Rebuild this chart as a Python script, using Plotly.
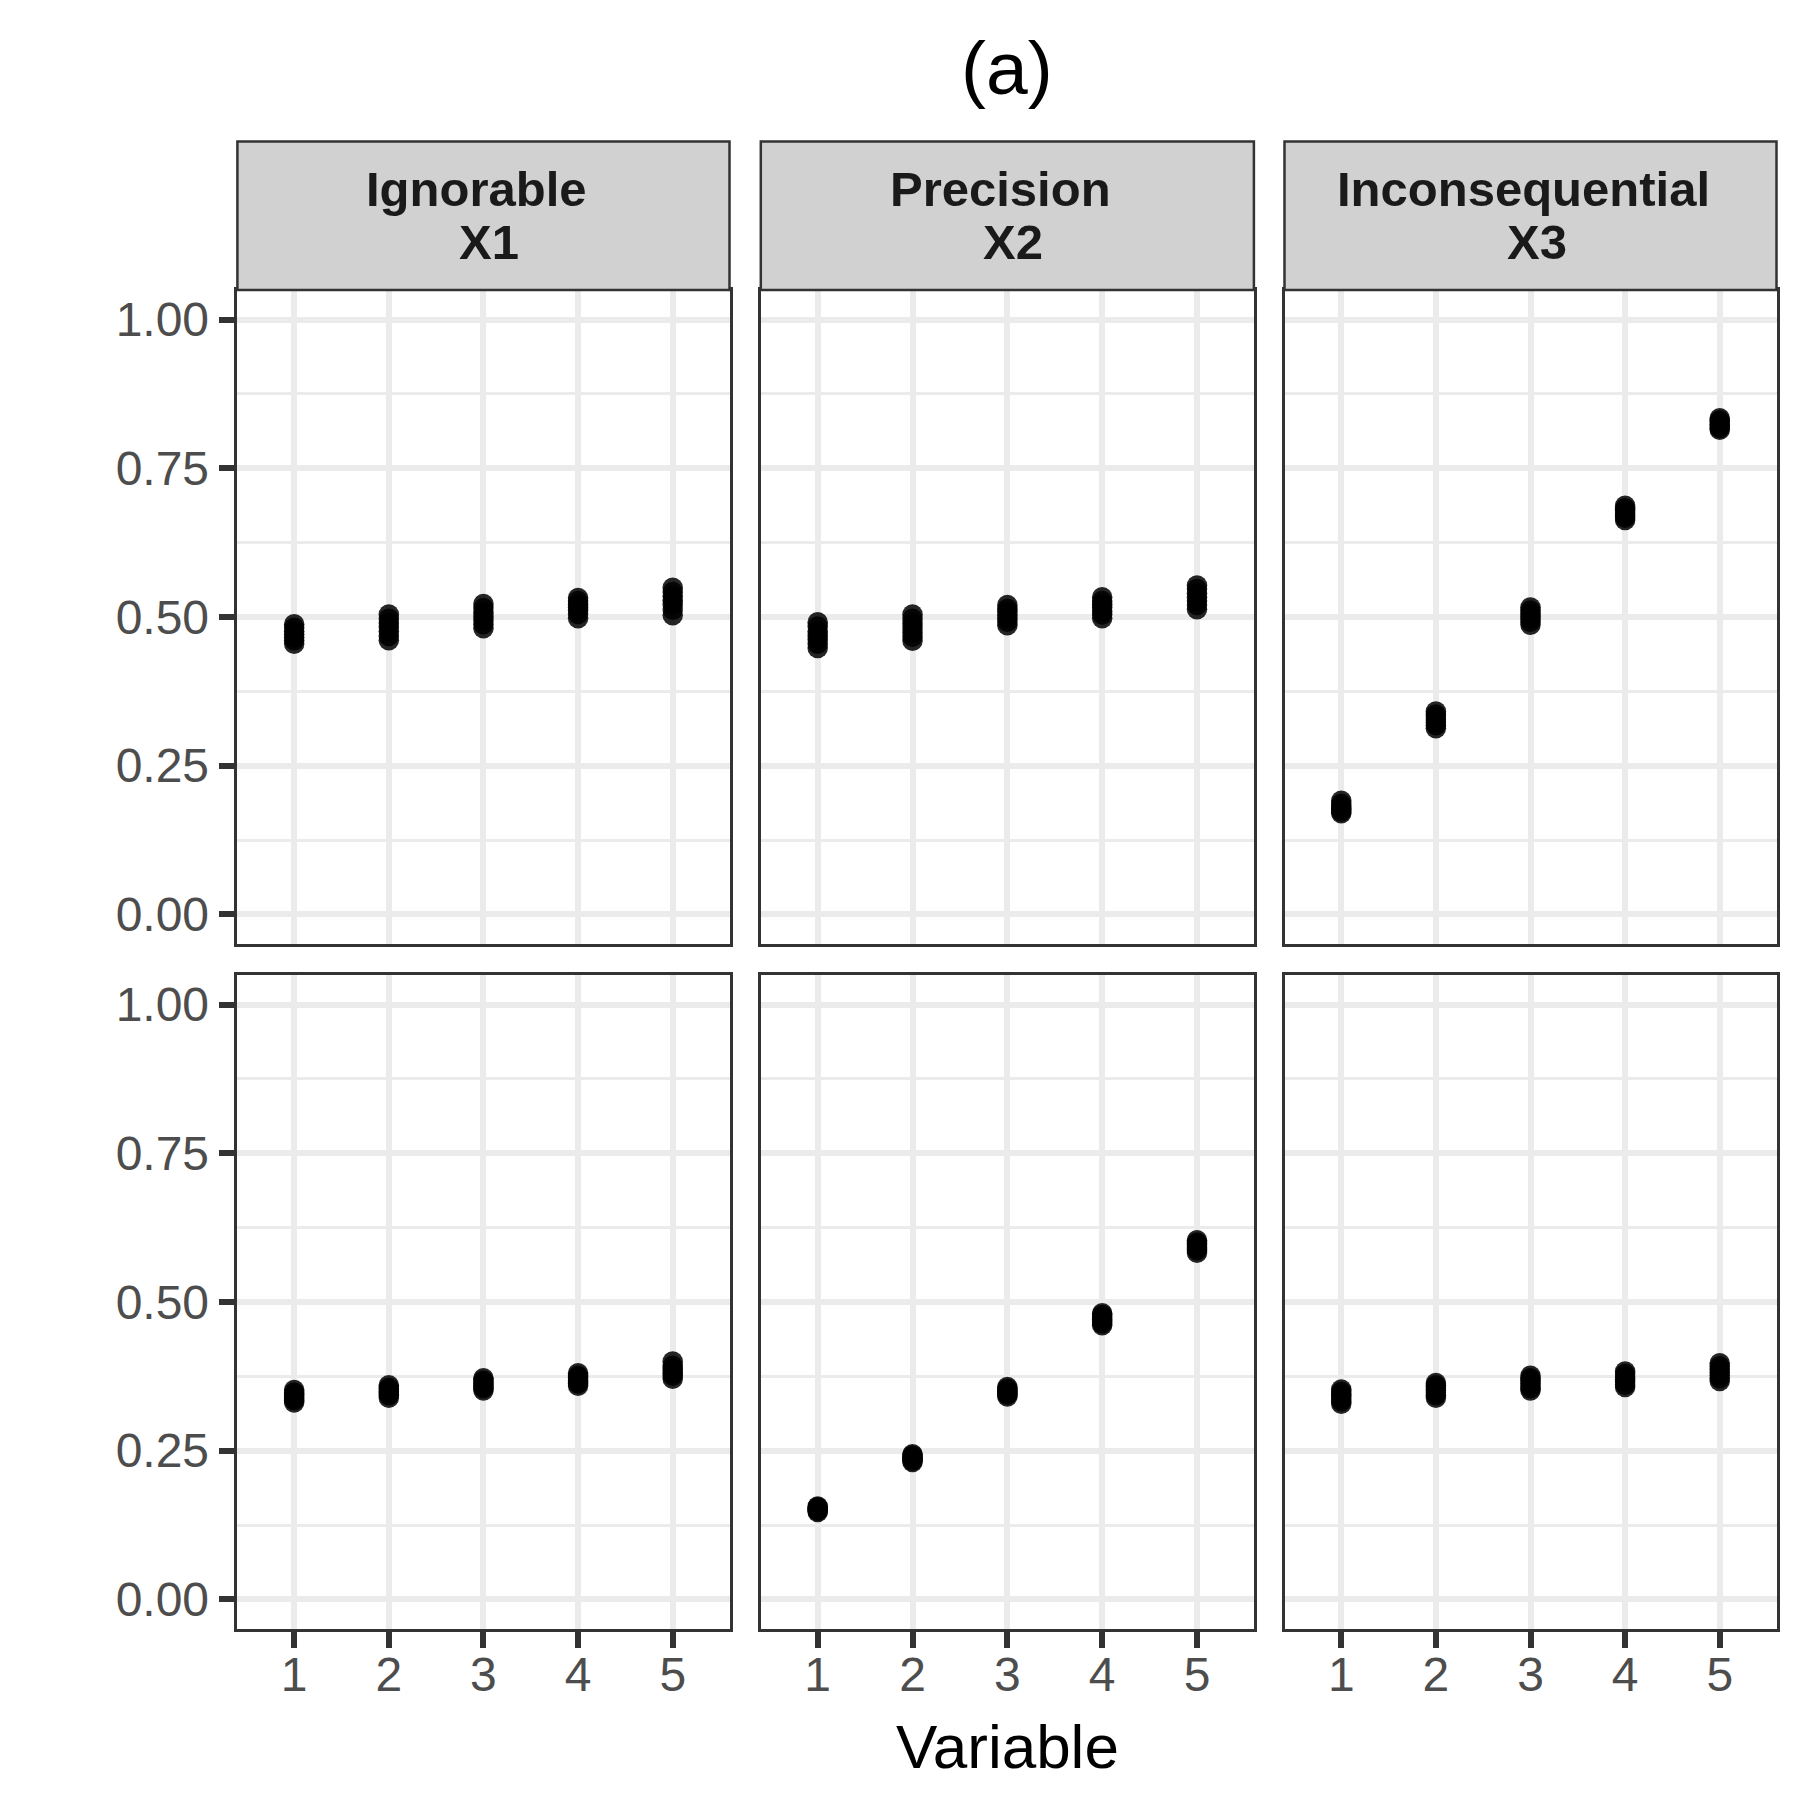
import plotly.graph_objects as go

# variables on the x axis and facet labels
variables = [1, 2, 3, 4, 5]
facet_titles = ["Ignorable", "Precision", "Inconsequential"]
facet_vars = ["X1", "X2", "X3"]
y_ticks = [0, 0.25, 0.5, 0.75, 1.0]
y_tick_labels = ["0.00", "0.25", "0.50", "0.75", "1.00"]
y_minor = [0.125, 0.375, 0.625, 0.875]

# replicate estimates, one list per variable (top row)
top_ignorable = [
    [0.455, 0.461, 0.466, 0.471, 0.476, 0.482, 0.488],
    [0.461, 0.468, 0.476, 0.483, 0.490, 0.497, 0.504],
    [0.481, 0.488, 0.494, 0.501, 0.508, 0.515, 0.522],
    [0.498, 0.505, 0.511, 0.516, 0.521, 0.527, 0.532],
    [0.503, 0.512, 0.521, 0.528, 0.535, 0.542, 0.549],
]
top_precision = [
    [0.448, 0.455, 0.462, 0.469, 0.476, 0.484, 0.491],
    [0.460, 0.467, 0.474, 0.482, 0.489, 0.497, 0.504],
    [0.486, 0.492, 0.498, 0.503, 0.509, 0.514, 0.520],
    [0.498, 0.504, 0.510, 0.516, 0.521, 0.527, 0.533],
    [0.513, 0.520, 0.527, 0.533, 0.540, 0.547, 0.553],
]
top_inconsequential = [
    [0.170, 0.173, 0.176, 0.179, 0.182, 0.186, 0.191],
    [0.313, 0.318, 0.322, 0.327, 0.332, 0.336, 0.341],
    [0.487, 0.492, 0.497, 0.501, 0.506, 0.511, 0.516],
    [0.663, 0.667, 0.671, 0.675, 0.679, 0.683, 0.687],
    [0.815, 0.818, 0.821, 0.824, 0.828, 0.831, 0.834],
]

# bottom row
bottom_ignorable = [
    [0.331, 0.335, 0.338, 0.341, 0.345, 0.348, 0.352],
    [0.339, 0.343, 0.346, 0.349, 0.353, 0.356, 0.360],
    [0.351, 0.355, 0.358, 0.361, 0.365, 0.368, 0.372],
    [0.359, 0.363, 0.366, 0.369, 0.373, 0.376, 0.380],
    [0.371, 0.376, 0.380, 0.384, 0.388, 0.393, 0.400],
]
bottom_precision = [
    [0.147, 0.149, 0.150, 0.152, 0.153, 0.155, 0.156],
    [0.231, 0.233, 0.235, 0.237, 0.239, 0.242, 0.244],
    [0.341, 0.344, 0.346, 0.349, 0.352, 0.354, 0.357],
    [0.461, 0.464, 0.468, 0.471, 0.474, 0.478, 0.481],
    [0.583, 0.587, 0.590, 0.593, 0.597, 0.600, 0.604],
]
bottom_inconsequential = [
    [0.329, 0.333, 0.337, 0.341, 0.345, 0.349, 0.353],
    [0.339, 0.343, 0.347, 0.351, 0.356, 0.360, 0.364],
    [0.351, 0.355, 0.359, 0.363, 0.368, 0.372, 0.376],
    [0.357, 0.361, 0.366, 0.370, 0.374, 0.379, 0.383],
    [0.367, 0.372, 0.377, 0.382, 0.387, 0.392, 0.397],
]

panels = [top_ignorable, top_precision, top_inconsequential,
          bottom_ignorable, bottom_precision, bottom_inconsequential]

FONT = "Liberation Sans, Arial, Helvetica, sans-serif"
W = H = 1800
col_dom = [(229.4 / W, 721.5 / W), (752.8 / W, 1245.9 / W), (1276.5 / W, 1768.5 / W)]
row_dom = [(1 - 936.1 / H, 1 - 281.9 / H), (1 - 1621.1 / H, 1 - 966.9 / H)]
strip_top = 1 - 133.5 / H

fig = go.Figure()
layout = dict(
    width=W, height=H,
    margin=dict(l=0, r=0, t=0, b=0),
    paper_bgcolor="white", plot_bgcolor="white",
    showlegend=False,
    shapes=[], annotations=[],
)

for i, clusters in enumerate(panels):
    r, c = divmod(i, 3)
    n = i + 1
    xs, ys = [], []
    for v, vals in zip(variables, clusters):
        xs += [v] * len(vals)
        ys += vals
    fig.add_trace(go.Scatter(
        x=xs, y=ys, mode="markers",
        marker=dict(color="black", size=20.5, opacity=0.85, line=dict(width=0)),
        xaxis=f"x{n}", yaxis=f"y{n}", hoverinfo="x+y",
    ))
    bottom = r == 1
    left = c == 0
    layout[f"xaxis{n}"] = dict(
        domain=list(col_dom[c]), anchor=f"y{n}", range=[0.4, 5.6],
        tickvals=variables, showticklabels=bottom,
        ticks="outside" if bottom else "", ticklen=16, tickwidth=6, tickcolor="#333333",
        ticklabelstandoff=-14,
        tickfont=dict(family=FONT, size=48, color="#4D4D4D"),
        showgrid=True, gridcolor="#EBEBEB", gridwidth=5.5, zeroline=False,
        showline=True, mirror=True, linecolor="#333333", linewidth=2.5,
        fixedrange=True,
    )
    layout[f"yaxis{n}"] = dict(
        domain=list(row_dom[r]), anchor=f"x{n}", range=[-0.05, 1.05],
        tickvals=y_ticks, ticktext=y_tick_labels, showticklabels=left,
        ticks="outside" if left else "", ticklen=16, tickwidth=6, tickcolor="#333333",
        tickfont=dict(family=FONT, size=48, color="#4D4D4D"),
        showgrid=True, gridcolor="#EBEBEB", gridwidth=5.5, zeroline=False,
        minor=dict(tickvals=y_minor, showgrid=True, gridcolor="#EBEBEB", gridwidth=3, ticks=""),
        showline=True, mirror=True, linecolor="#333333", linewidth=2.5,
        fixedrange=True,
    )

# facet strips across the top
for c in range(3):
    x0, x1 = col_dom[c]
    layout["shapes"].append(dict(
        type="rect", xref="paper", yref="paper",
        x0=x0, x1=x1, y0=row_dom[0][1], y1=strip_top,
        fillcolor="#D1D1D1", line=dict(color="#333333", width=2.5), layer="above",
    ))
    xc = (x0 + x1) / 2
    layout["annotations"].append(dict(
        text=f"<b>{facet_titles[c]}</b>", xref="paper", yref="paper",
        x=xc, y=1 - 181 / H, xanchor="center", yanchor="middle", xshift=-7,
        showarrow=False, font=dict(family=FONT, size=49, color="#1A1A1A"),
    ))
    layout["annotations"].append(dict(
        text=f"<b>{facet_vars[c]}</b>", xref="paper", yref="paper",
        x=xc, y=1 - 234 / H, xanchor="center", yanchor="middle", xshift=6,
        showarrow=False, font=dict(family=FONT, size=49, color="#1A1A1A"),
    ))

# title and x axis title
layout["annotations"].append(dict(
    text="(a)", xref="paper", yref="paper", x=999 / W, y=1 - 60 / H,
    xanchor="center", yanchor="middle", showarrow=False,
    font=dict(family=FONT, size=75, color="black"),
))
layout["annotations"].append(dict(
    text="Variable", xref="paper", yref="paper", x=999 / W, y=1 - 1738 / H,
    xanchor="center", yanchor="middle", showarrow=False,
    font=dict(family=FONT, size=62, color="black"),
))

fig.update_layout(**layout)
fig.write_html("out.html")
